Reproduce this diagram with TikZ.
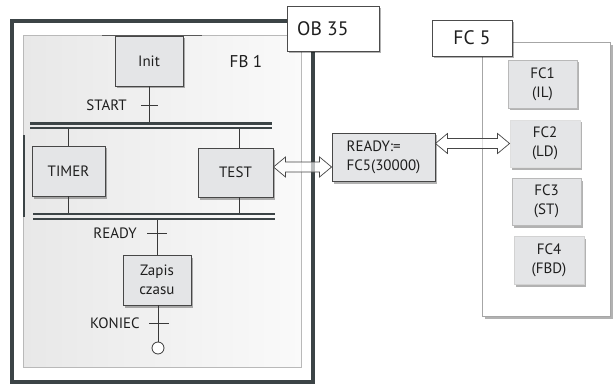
\documentclass[tikz,border=0pt]{standalone}
\usepackage{fontspec}
\setmainfont{PT Sans}
\usetikzlibrary{shadows,calc}
\definecolor{framec}{HTML}{3C4446}
\definecolor{boxfill}{HTML}{E4E5E7}
\definecolor{boxline}{HTML}{474747}
\definecolor{txt}{HTML}{1E1E1E}
\newcommand\fsbox{\fontsize{15}{19}\selectfont}
\newcommand\fslab{\fontsize{19.5}{22}\selectfont}
\tikzset{
  stepbox/.style={draw=boxline, line width=0.9pt, fill=boxfill, align=center, inner sep=0pt,
    text=txt, font=\fsbox,
    drop shadow={shadow xshift=2pt, shadow yshift=-2.5pt, opacity=0.3, fill=black}},
  fcbox/.style={stepbox, draw=gray!55},
  labbox/.style={draw=gray!60!black, line width=0.8pt, fill=white, inner sep=0pt, font=\fslab, text=txt,
    drop shadow={shadow xshift=2pt, shadow yshift=-2.5pt, opacity=0.3, fill=black}},
  conn/.style={draw=gray!45!black, line width=0.8pt},
  barline/.style={draw=framec, line width=2.6pt},
  lbl/.style={font=\fsbox, text=txt, inner sep=0pt},
  harrow/.style={draw=gray!55!black, line width=0.7pt, fill=white, fill opacity=0.65, line join=miter},
}
\begin{document}
\begin{tikzpicture}[x=1pt,y=-1pt]
\useasboundingbox (0,0) rectangle (613,385);
% ---- FC 5 frame
\draw[draw=gray!70, line width=0.8pt, fill=white,
  drop shadow={shadow xshift=2.5pt, shadow yshift=-3pt, opacity=0.3, fill=black}] (482,42) rectangle (610,316);
\node[labbox, minimum width=80pt, minimum height=36pt] (fc5lab) at (472,38) {FC 5};
% ---- OB 35 frame
\draw[draw=framec, line width=4.5pt] (12,21) rectangle (313,382);
\draw[draw=gray!55, line width=0.8pt, left color=black!9, right color=black!2] (23,35.5) rectangle (301,367);
\draw[draw=framec, line width=2pt] (24,135) -- (24,217);
\draw[draw=gray!70!black, line width=1.4pt] (102,35.5) -- (202,35.5);
\node[labbox, minimum width=92pt, minimum height=45pt] (oblab) at (333,28.5) {};
\node[lbl, font=\fslab, anchor=west] (obtext) at (297,28.5) {OB 35};
\node[lbl, font=\fontsize{17}{19}\selectfont] (fb1) at (246,62) {FB 1};
% ---- steps
\node[stepbox, minimum width=68pt, minimum height=50pt] (init) at (149,61) {Init};
\node[stepbox, minimum width=73pt, minimum height=50pt] (timer) at (68.5,171) {TIMER};
\node[stepbox, minimum width=75pt, minimum height=49pt] (test) at (235.5,172.5) {TEST};
\node[stepbox, minimum width=68pt, minimum height=50pt] (zapis) at (157,280) {Zapis\\czasu};
\node[circle, draw=gray!45!black, line width=0.8pt, fill=white, minimum size=12pt, inner sep=0pt] (endc) at (158,348) {};
% ---- bars
\coordinate (b1a) at (30,123.5); \coordinate (b1b) at (272,123.5);
\coordinate (b1c) at (30,128);   \coordinate (b1d) at (272,128);
\coordinate (b2a) at (33,214);   \coordinate (b2b) at (275,214);
\coordinate (b2c) at (33,219);   \coordinate (b2d) at (275,219);
% connectors
\draw[conn] (init.south) -- (init.south |- b1a);
\draw[conn] (timer.north) -- (timer.north |- b1c);
\draw[conn] ([xshift=3.5pt]test.north) -- ([xshift=3.5pt]test.north |- b1c);
\draw[conn] (timer.south) -- (timer.south |- b2a);
\draw[conn] ([xshift=3.5pt]test.south) -- ([xshift=3.5pt]test.south |- b2a);
\draw[conn] (zapis.north) -- (zapis.north |- b2c);
\draw[conn] ([xshift=1pt]zapis.south) -- (endc.north);
\draw[barline] (b1a) -- (b1b);
\draw[barline] (b1c) -- (b1d);
\draw[barline] (b2a) -- (b2b);
\draw[barline] (b2c) -- (b2d);
% transitions
\coordinate (tstart) at (149,105);
\coordinate (tready) at (157,233);
\coordinate (tkon) at (159,323);
\draw[conn] ([xshift=-8pt]tstart) -- ([xshift=9pt]tstart);
\draw[conn] ([xshift=-10pt]tready) -- ([xshift=10pt]tready);
\draw[conn] ([xshift=-10pt]tkon) -- ([xshift=10pt]tkon);
\node[lbl, anchor=east] (lstart) at ([xshift=-22pt]tstart) {START};
\node[lbl, anchor=east] (lready) at ([xshift=-20pt]tready) {READY};
\node[lbl, anchor=east] (lkon) at ([xshift=-19pt]tkon) {KONIEC};
% ---- READY box
\node[stepbox, minimum width=103pt, minimum height=48pt, align=left] (ready) at (383.5,157) {READY:=\\FC5(30000)};
% ---- FC boxes
\node[fcbox, minimum width=69pt, minimum height=48pt] (fc1) at (542.5,84) {FC1\\(IL)};
\node[fcbox, draw=gray!25, minimum width=70pt, minimum height=47pt] (fc2) at (545,143.5) {FC2\\(LD)};
\node[fcbox, minimum width=69pt, minimum height=47pt] (fc3) at (546.5,201.5) {FC3\\(ST)};
\node[fcbox, draw=gray!35, minimum width=70pt, minimum height=48pt] (fc4) at (549,260) {FC4\\(FBD)};
% ---- hollow double arrows
\coordinate (a1) at ($(test.east)+(0,-5.5)$);
\coordinate (a2) at (a1 -| ready.west);
\draw[harrow] (a1) -- ++(12,-10) -- ++(0,5) -- ($(a2)+(-12,-5)$) -- ++(0,-5) -- (a2)
  -- ++(-12,10) -- ++(0,-5) -- ($(a1)+(12,5)$) -- ++(0,5) -- cycle;
\coordinate (c2) at (fc2.west);
\coordinate (c1) at (c2 -| ready.east);
\draw[harrow] (c1) -- ++(12,-10) -- ++(0,5) -- ($(c2)+(-12,-5)$) -- ++(0,-5) -- (c2)
  -- ++(-12,10) -- ++(0,-5) -- ($(c1)+(12,5)$) -- ++(0,5) -- cycle;
\end{tikzpicture}
\end{document}
